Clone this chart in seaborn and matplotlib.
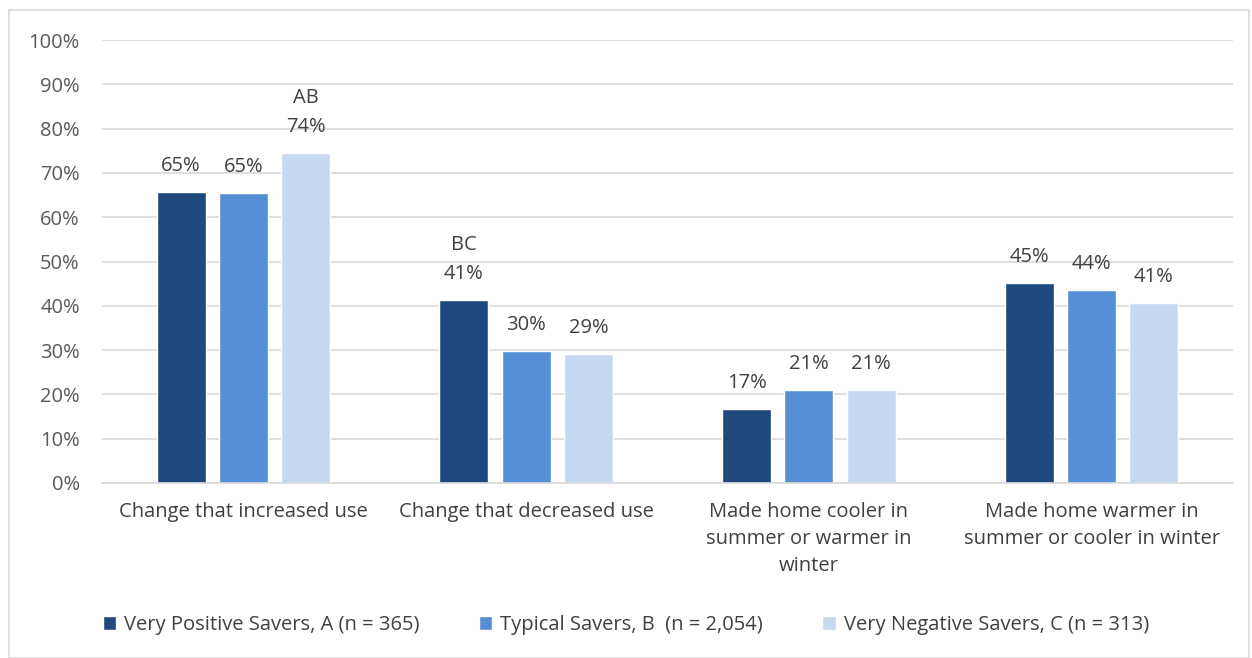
import pandas as pd
import matplotlib.pyplot as plt
import seaborn as sns
from matplotlib.patches import Rectangle
from matplotlib.ticker import PercentFormatter

categories = ['Change that increased use', 'Change that decreased use',
              'Made home cooler in\nsummer or warmer in\nwinter',
              'Made home warmer in\nsummer or cooler in winter']
groups = ['Very Positive Savers, A (n = 365)', 'Typical Savers, B  (n = 2,054)',
          'Very Negative Savers, C (n = 313)']
group_a = [65.6, 41.4, 16.8, 45.1]
group_b = [65.5, 29.9, 21.0, 43.6]
group_c = [74.5, 29.1, 21.1, 40.6]
label_a = [65, 41, 17, 45]
label_b = [65, 30, 21, 44]
label_c = [74, 29, 21, 41]
# significance letters shown above the labels
sig_a = ['', 'BC', '', '']
sig_b = ['', '', '', '']
sig_c = ['AB', '', '', '']

colors = ['#1f497d', '#558ed5', '#c6d9f1']

rows = []
for vals, grp in zip([group_a, group_b, group_c], groups):
    for cat, v in zip(categories, vals):
        rows.append({'Category': cat, 'Group': grp, 'Value': v})
df = pd.DataFrame(rows)

sns.set_style('white')
plt.rcParams['font.family'] = ['Open Sans', 'DejaVu Sans']

fig = plt.figure(figsize=(12.52, 6.58), dpi=100)
ax = fig.add_axes([102 / 1252, 1 - 483 / 658, 1131 / 1252, 443 / 658])

sns.barplot(data=df, x='Category', y='Value', hue='Group', palette=colors,
            width=0.66, gap=0.21, ax=ax, legend=True, saturation=1)

ax.set_ylim(0, 100)
ax.set_xlim(-0.5, 3.5)
ax.set_yticks(range(0, 101, 10))
ax.yaxis.set_major_formatter(PercentFormatter(decimals=0))
ax.grid(axis='y', color='#d9d9d9', linewidth=1.2)
ax.set_axisbelow(True)
for s in ['top', 'right', 'left']:
    ax.spines[s].set_visible(False)
ax.spines['bottom'].set_color('#d9d9d9')
ax.spines['bottom'].set_linewidth(1.2)
ax.tick_params(axis='y', length=0, pad=16, labelsize=14.5, labelcolor='#595959')
ax.tick_params(axis='x', length=0, pad=14, labelsize=14.5, labelcolor='#404040')
for t in ax.get_xticklabels():
    t.set_linespacing(1.45)
ax.set_xlabel('')
ax.set_ylabel('')

labels = [label_a, label_b, label_c]
sigs = [sig_a, sig_b, sig_c]
for cont, lab, sg in zip(ax.containers, labels, sigs):
    for bar, l, s in zip(cont, lab, sg):
        txt = f'{s}\n{l}%' if s else f'{l}%'
        ax.annotate(txt, (bar.get_x() + bar.get_width() / 2, bar.get_height()),
                    xytext=(0, 11.5), textcoords='offset points', ha='center',
                    va='bottom', fontsize=14.5, color='#404040', linespacing=1.6)

ax.legend(loc='center', bbox_to_anchor=(0.5, (658 - 625) / 658), bbox_transform=fig.transFigure,
          ncol=3, frameon=False, fontsize=14.5, handlelength=0.65, handleheight=0.65,
          columnspacing=2.95, handletextpad=0.4, labelcolor='#404040')

fig.patches.append(Rectangle((9 / 1252, 0), 1240 / 1252, 648 / 658, transform=fig.transFigure,
                             fill=False, edgecolor='#d9d9d9', linewidth=1.2))

fig.savefig('out.png', dpi=100)
